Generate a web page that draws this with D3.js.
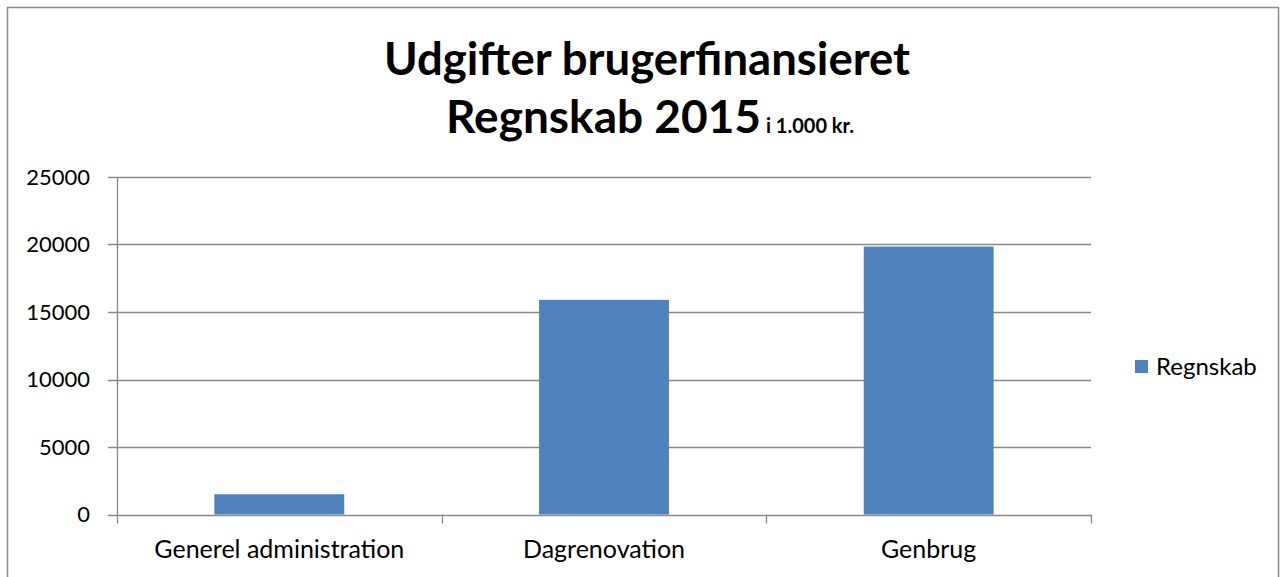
<!DOCTYPE html>
<html>
<head>
<meta charset="utf-8">
<script src="https://cdn.jsdelivr.net/npm/d3@7"></script>
<style>
  html, body { margin: 0; padding: 0; background: #fff; }
  svg { display: block; font-family: Lato, "Noto Sans", sans-serif; }
</style>
</head>
<body>
<div id="chart"></div>
<script>
// Udgifter brugerfinansieret - Regnskab 2015 (i 1.000 kr.)
const categories = ["Generel administration", "Dagrenovation", "Genbrug"];
const regnskab = [1500, 15900, 19850];
const yTicks = [0, 5000, 10000, 15000, 20000, 25000];
const seriesName = "Regnskab";

const W = 1281, H = 577;
const plot = { left: 117, right: 1091, top: 177, bottom: 514.5 };
const barColor = "#4F81BD";
const gridColor = "#8a8a8a";

const svg = d3.select("#chart").append("svg")
  .attr("width", W)
  .attr("height", H);

// outer frame
svg.append("rect")
  .attr("x", 7.5).attr("y", 7.5)
  .attr("width", W - 10).attr("height", H + 20)
  .attr("fill", "none")
  .attr("stroke", gridColor)
  .attr("stroke-width", 1.5);

const x = d3.scaleBand()
  .domain(categories)
  .range([plot.left, plot.right])
  .paddingInner(0.6)
  .paddingOuter(0.3);

const y = d3.scaleLinear()
  .domain([0, 25000])
  .range([plot.bottom, plot.top]);

// gridlines
svg.append("g")
  .selectAll("line")
  .data(yTicks)
  .join("line")
  .attr("x1", plot.left - 9)
  .attr("x2", plot.right)
  .attr("y1", d => Math.round(y(d)) + 0.5)
  .attr("y2", d => Math.round(y(d)) + 0.5)
  .attr("stroke", gridColor)
  .attr("stroke-width", 1.3);

// y axis line
svg.append("line")
  .attr("x1", plot.left + 0.5).attr("x2", plot.left + 0.5)
  .attr("y1", plot.top).attr("y2", plot.bottom)
  .attr("stroke", gridColor)
  .attr("stroke-width", 1.3);

// y labels
svg.append("g")
  .selectAll("text")
  .data(yTicks)
  .join("text")
  .attr("x", 90)
  .attr("y", d => y(d))
  .attr("dy", "0.35em")
  .attr("text-anchor", "end")
  .attr("font-size", 22)
  .attr("fill", "#000")
  .text(d => d);

// category boundary ticks
const bounds = d3.range(categories.length + 1).map(i => plot.left + i * (plot.right - plot.left) / categories.length);
svg.append("g")
  .selectAll("line")
  .data(bounds)
  .join("line")
  .attr("x1", d => Math.round(d) + 0.5)
  .attr("x2", d => Math.round(d) + 0.5)
  .attr("y1", plot.bottom)
  .attr("y2", plot.bottom + 9)
  .attr("stroke", gridColor)
  .attr("stroke-width", 1.3);

// bars
svg.append("g")
  .selectAll("rect")
  .data(categories.map((c, i) => ({ c, v: regnskab[i] })))
  .join("rect")
  .attr("x", d => x(d.c))
  .attr("width", x.bandwidth())
  .attr("y", d => y(d.v))
  .attr("height", d => y(0) - y(d.v))
  .attr("fill", barColor);

// x labels
svg.append("g")
  .selectAll("text")
  .data(categories)
  .join("text")
  .attr("x", d => x(d) + x.bandwidth() / 2)
  .attr("y", 558)
  .attr("text-anchor", "middle")
  .attr("font-size", 25)
  .attr("fill", "#000")
  .text(d => d);

// title
svg.append("text")
  .attr("x", 647)
  .attr("y", 75)
  .attr("text-anchor", "middle")
  .attr("font-size", 45.5)
  .attr("font-weight", "bold")
  .text("Udgifter brugerfinansieret");

const t2 = svg.append("text")
  .attr("x", 650)
  .attr("y", 133)
  .attr("text-anchor", "middle")
  .attr("font-weight", "bold");
t2.append("tspan").attr("font-size", 46).text("Regnskab 2015");
t2.append("tspan").attr("font-size", 20).text(" i 1.000 kr.");

// legend
const lg = svg.append("g").attr("transform", "translate(1135,360)");
lg.append("rect")
  .attr("width", 13).attr("height", 13)
  .attr("fill", barColor);
lg.append("text")
  .attr("x", 21)
  .attr("y", 6.5)
  .attr("dy", "0.35em")
  .attr("font-size", 24)
  .text(seriesName);
</script>
</body>
</html>
